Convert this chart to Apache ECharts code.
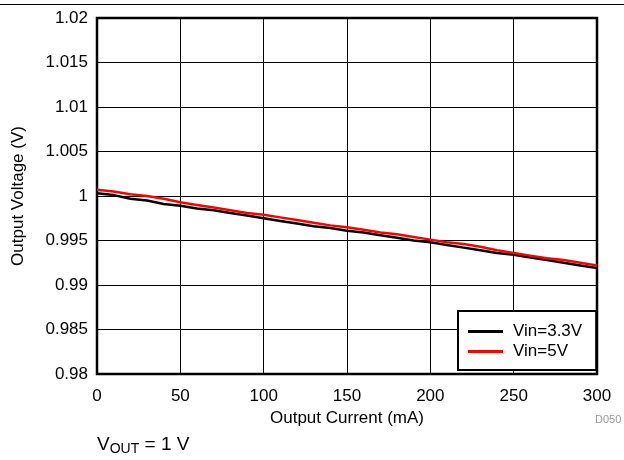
<!DOCTYPE html>
<html><head><meta charset="utf-8">
<script src="https://cdn.jsdelivr.net/npm/echarts@6/dist/echarts.min.js"></script>
<style>html,body{margin:0;padding:0;background:#fff}#c{width:624px;height:460px}</style>
</head><body><div id="c"></div>
<script>
const current = [0,10,20,30,40,50,60,70,80,90,100,110,120,130,140,150,160,170,180,190,200,210,220,230,240,250,260,270,280,290,300];
const vin33 = [1.0003,1.0001,0.9997,0.9995,0.9991,0.9989,0.9986,0.9984,0.9981,0.9978,0.9975,0.9972,0.9969,0.9966,0.9964,0.9961,0.9959,0.9956,0.9953,0.9950,0.9948,0.9945,0.9942,0.9939,0.9936,0.9934,0.9931,0.9928,0.9925,0.9922,0.9919];
const vin5 = [1.0007,1.0005,1.0002,1.0000,0.9997,0.9993,0.9990,0.9987,0.9984,0.9981,0.9979,0.9976,0.9973,0.9970,0.9967,0.9965,0.9962,0.9959,0.9957,0.9954,0.9951,0.9948,0.9946,0.9943,0.9939,0.9936,0.9933,0.9930,0.9928,0.9925,0.9922];
const seriesNames = ['Vin=3.3V','Vin=5V'];
const yTicks = ['0.98','0.985','0.99','0.995','1','1.005','1.01','1.015','1.02'];

const F = 'Liberation Sans, Arial, sans-serif';
const FS = 17;
const chart = echarts.init(document.getElementById('c'));
chart.setOption({
  animation: false,
  textStyle: {fontFamily: F},
  grid: {left: 97, right: 27, top: 18, bottom: 86, show: true, borderColor: '#000', borderWidth: 2.5, backgroundColor: 'transparent'},
  xAxis: {
    type: 'value', min: 0, max: 300, interval: 50,
    name: 'Output Current (mA)', nameLocation: 'middle', nameGap: 31,
    nameTextStyle: {fontFamily: F, fontSize: FS, color: '#000'},
    axisLine: {show: false}, axisTick: {show: false},
    axisLabel: {fontFamily: F, fontSize: FS, color: '#000', margin: 14},
    splitLine: {lineStyle: {color: '#000', width: 1}}
  },
  yAxis: {
    type: 'value', min: 0.98, max: 1.02, interval: 0.005,
    name: 'Output Voltage (V)', nameLocation: 'middle', nameGap: 70,
    nameTextStyle: {fontFamily: F, fontSize: FS, color: '#000'},
    axisLine: {show: false}, axisTick: {show: false},
    axisLabel: {fontFamily: F, fontSize: FS, color: '#000', margin: 9,
      formatter: v => { const i = Math.round((v - 0.98) / 0.005); return yTicks[i] !== undefined ? yTicks[i] : ''; }},
    splitLine: {lineStyle: {color: '#000', width: 1}}
  },
  legend: {
    orient: 'vertical', left: 458, top: 311,
    backgroundColor: '#fff', borderColor: '#000', borderWidth: 2, borderRadius: 0,
    padding: [12, 14, 10, 10], itemGap: 3, itemWidth: 35, itemHeight: 3, icon: 'rect',
    textStyle: {fontFamily: F, fontSize: FS, color: '#000', padding: [0,0,0,5]},
    data: seriesNames
  },
  series: [
    {name: seriesNames[0], type: 'line', showSymbol: false, symbol: 'none', data: current.map((x,i)=>[x, vin33[i]]), lineStyle: {color: '#000', width: 2.5}, itemStyle: {color: '#000'}, z: 3},
    {name: seriesNames[1], type: 'line', showSymbol: false, symbol: 'none', data: current.map((x,i)=>[x, vin5[i]]), lineStyle: {color: '#ff0000', width: 2.5}, itemStyle: {color: '#ff0000'}, z: 4}
  ],
  graphic: [
    {type: 'line', shape: {x1: 0, y1: 4.5, x2: 624, y2: 4.5}, style: {stroke: '#000', lineWidth: 1}},
    {type: 'text', left: 595, top: 414, style: {text: 'D050', fontFamily: F, fontSize: 11, fill: '#999'}},
    {type: 'text', left: 97, top: 435, style: {
      text: '{v|V}{s|OUT}{v| = 1 V}', fontFamily: F,
      rich: {v: {fontSize: 19, fontFamily: F, color: '#000'}, s: {fontSize: 14, fontFamily: F, color: '#000', padding: [9,0,0,0]}}
    }}
  ]
});
</script></body></html>
